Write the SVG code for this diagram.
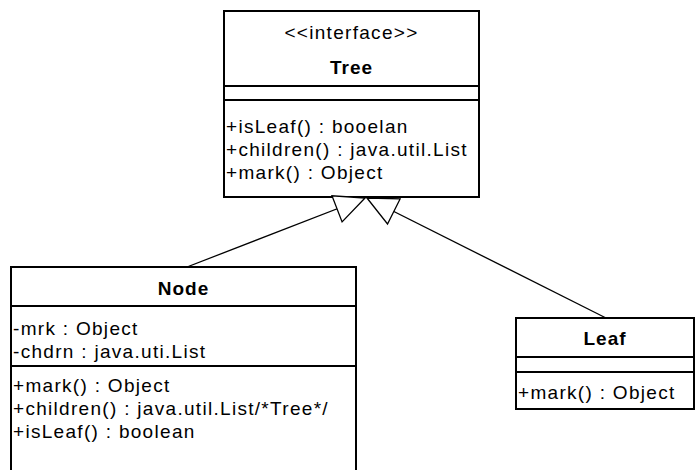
<svg xmlns="http://www.w3.org/2000/svg" width="696" height="470" viewBox="0 0 696 470">
<style>
.box{fill:#fff;stroke:#000;stroke-width:2}
.sep{stroke:#000;stroke-width:2}
.t{font-family:"Liberation Sans",Arial,sans-serif;font-size:19px;letter-spacing:1.3px;fill:#000}
.b{font-weight:bold;text-anchor:middle;letter-spacing:1px}
.c{text-anchor:middle}
.edge{stroke:#000;stroke-width:1.3;fill:none}
</style>
<defs>
<marker id="gen" viewBox="-32 -16 34 32" refX="0" refY="0" markerWidth="34" markerHeight="32" markerUnits="userSpaceOnUse" orient="auto">
<path d="M0,0 L-30,-14 L-30,14 Z" fill="#fff" stroke="#000" stroke-width="1.3"/>
</marker>
</defs>
<rect width="696" height="470" fill="#fff"/>
<g id="Tree">
<rect class="box" x="224" y="11" width="255" height="186"/>
<text class="t c" x="351.5" y="39">&lt;&lt;interface&gt;&gt;</text>
<text class="t b" x="351.5" y="74">Tree</text>
<line class="sep" x1="224" y1="86" x2="479" y2="86"/>
<line class="sep" x1="224" y1="100" x2="479" y2="100"/>
<text class="t" x="226" y="132.5">+isLeaf() : booelan</text>
<text class="t" x="226" y="155.5">+children() : java.util.List</text>
<text class="t" x="226" y="178.5">+mark() : Object</text>
</g>
<g id="Node">
<rect class="box" x="11" y="267" width="345" height="220"/>
<text class="t b" x="183.5" y="295">Node</text>
<line class="sep" x1="11" y1="306" x2="356" y2="306"/>
<text class="t" x="13" y="334.5">-mrk : Object</text>
<text class="t" x="13" y="357.5">-chdrn : java.uti.List</text>
<line class="sep" x1="11" y1="366" x2="356" y2="366"/>
<text class="t" x="13" y="391.5">+mark() : Object</text>
<text class="t" x="13" y="414.5">+children() : java.util.List/*Tree*/</text>
<text class="t" x="13" y="437.5">+isLeaf() : boolean</text>
</g>
<g id="Leaf">
<rect class="box" x="516" y="318" width="178" height="91"/>
<text class="t b" x="605" y="345">Leaf</text>
<line class="sep" x1="516" y1="357" x2="694" y2="357"/>
<line class="sep" x1="516" y1="372" x2="694" y2="372"/>
<text class="t" x="518" y="398.5">+mark() : Object</text>
</g>
<g id="connectors">
<line class="edge" x1="187" y1="267" x2="365" y2="198" marker-end="url(#gen)"/>
<line class="edge" x1="606" y1="318" x2="367" y2="198" marker-end="url(#gen)"/>
</g>
</svg>
